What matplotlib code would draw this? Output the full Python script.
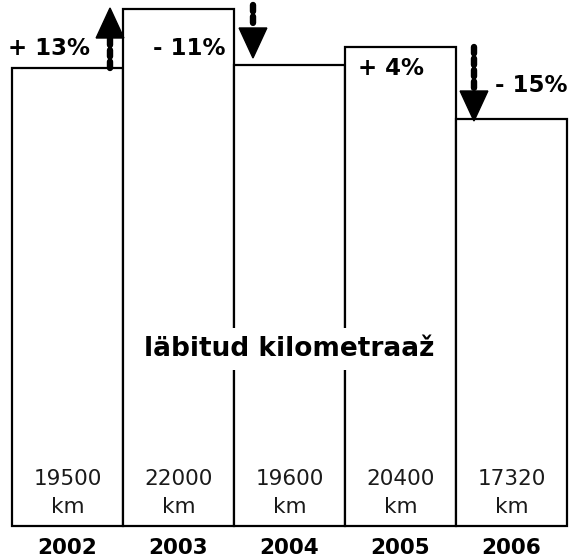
import matplotlib
matplotlib.use('Agg')
import matplotlib.pyplot as plt

years = ['2002', '2003', '2004', '2005', '2006']
km_values = [19500, 22000, 19600, 20400, 17320]
change_labels = ['+ 13%', '- 11%', '+ 4%', '- 15%']
center_label = 'läbitud kilometraaž'

# arrows: x position, start value, end value
arrow_x = [0.383, 1.671, 3.662]
arrow_from = [19500, 22170, 20383]
arrow_to = [22043, 19915, 17234]

# percent label anchors (left edge x, centre y)
label_x = [-0.536, 0.770, 2.617, 3.851]
label_y = [20340, 20340, 19447, 18766]

fig = plt.figure(figsize=(5.72, 5.59), dpi=100)
ax = fig.add_axes([0, 0, 1, 1])
ax.set_xlim(-0.608, 4.545)
ax.set_ylim(-1404, 22383)
ax.axis('off')

x = list(range(len(years)))
ax.bar(x, km_values, width=1.0, facecolor='white', edgecolor='black', linewidth=1.6)

for i, v in enumerate(km_values):
    ax.text(i, 2000, str(v), ha='center', va='center', fontsize=15.5, color='#1a1a1a')
    ax.text(i, 809, 'km', ha='center', va='center', fontsize=15.5, color='#1a1a1a')
    ax.text(i, -936, years[i], ha='center', va='center', fontsize=15.5, fontweight='bold')

ax.text(2, 7532, center_label, ha='center', va='center', fontsize=19, fontweight='bold',
        bbox=dict(boxstyle='square,pad=0.3', facecolor='white', edgecolor='none'), zorder=5)

for lx, ly, lab in zip(label_x, label_y, change_labels):
    ax.text(lx, ly, lab, ha='left', va='center', fontsize=16.5, fontweight='bold')

head_w = 0.125
head_len = 1277
for ax_x, y0, y1 in zip(arrow_x, arrow_from, arrow_to):
    sign = 1 if y1 > y0 else -1
    base = y1 - sign * head_len
    ax.plot([ax_x, ax_x], [y0, base], color='black', lw=4.6,
            linestyle=(0, (1.0, 0.8)), dash_capstyle='round', zorder=4)
    ax.fill([ax_x - head_w, ax_x + head_w, ax_x], [base, base, y1], color='black', zorder=4)

fig.savefig('out.png', dpi=100)
